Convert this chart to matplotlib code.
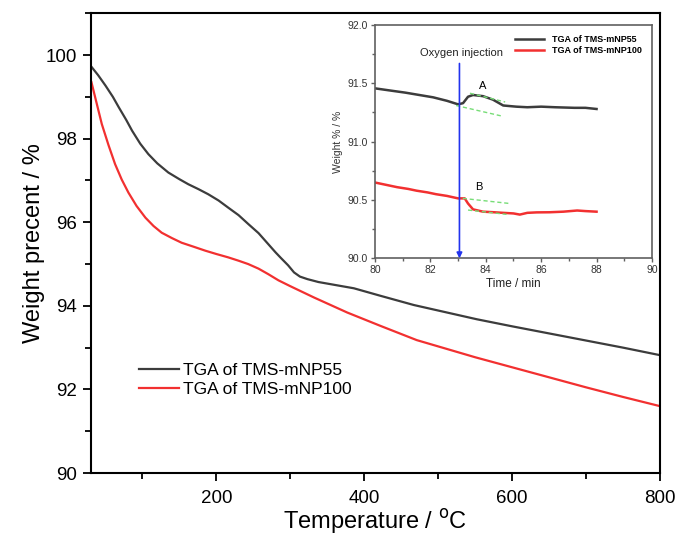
import numpy as np
import matplotlib.pyplot as plt
from matplotlib.ticker import MultipleLocator, FormatStrFormatter

plt.rcParams['font.family'] = ['Liberation Sans', 'DejaVu Sans']

# ---- main TGA curves (temperature in degC, weight in %) ----
temp_55 = [31, 40, 50, 60, 68, 78, 86, 97, 108, 120, 135, 150, 162, 176, 189,
           203, 216, 230, 243, 257, 270, 280, 287, 297, 305, 313, 323, 338,
           354, 370, 386, 422, 467, 512, 552, 600, 650, 700, 750, 800]
weight_55 = [99.72, 99.52, 99.27, 99.00, 98.75, 98.45, 98.19, 97.88, 97.63,
             97.41, 97.19, 97.03, 96.91, 96.79, 96.67, 96.52, 96.35, 96.17,
             95.96, 95.74, 95.48, 95.28, 95.15, 94.97, 94.80, 94.70, 94.64,
             94.57, 94.52, 94.47, 94.42, 94.24, 94.02, 93.84, 93.68, 93.51,
             93.34, 93.17, 93.00, 92.82]

temp_100 = [31, 38, 45, 54, 63, 72, 81, 92, 104, 115, 126, 140, 153, 170, 185,
            200, 216, 230, 243, 257, 270, 284, 300, 332, 377, 422, 471, 550,
            600, 650, 700, 750, 800]
weight_100 = [99.35, 98.85, 98.35, 97.85, 97.39, 97.02, 96.71, 96.39, 96.11,
              95.91, 95.75, 95.62, 95.51, 95.41, 95.32, 95.24, 95.16, 95.08,
              95.00, 94.89, 94.76, 94.61, 94.47, 94.20, 93.84, 93.52, 93.18,
              92.77, 92.53, 92.29, 92.05, 91.82, 91.60]

# ---- inset: isothermal run with oxygen injection (time in min) ----
time_55 = [80.0, 80.5, 81.1, 81.6, 82.1, 82.6, 83.0, 83.18, 83.36, 83.54, 83.9,
           84.26, 84.63, 85.1, 85.5, 86.0, 86.5, 87.2, 87.6, 88.0]
iso_55 = [91.457, 91.44, 91.42, 91.40, 91.38, 91.35, 91.32, 91.33, 91.385,
          91.40, 91.39, 91.36, 91.31, 91.30, 91.295, 91.30, 91.295, 91.29,
          91.29, 91.28]

time_100 = [80.0, 80.4, 80.8, 81.2, 81.5, 81.9, 82.2, 82.6, 83.0, 83.24, 83.36,
            83.54, 83.9, 84.3, 84.63, 85.0, 85.23, 85.5, 85.84, 86.3, 86.8,
            87.3, 87.6, 88.0]
iso_100 = [90.65, 90.63, 90.61, 90.595, 90.58, 90.565, 90.55, 90.535, 90.514,
           90.514, 90.47, 90.42, 90.40, 90.395, 90.39, 90.385, 90.375, 90.39,
           90.394, 90.395, 90.40, 90.41, 90.405, 90.40]

# green dashed tangent guides
tangents = [
    ([83.43, 84.70], [91.415, 91.34]),
    ([82.93, 84.57], [91.31, 91.22]),
    ([83.17, 84.87], [90.514, 90.47]),
    ([83.36, 84.75], [90.414, 90.377]),
]
injection_time = 83.05

black = '#3c3c3c'
red = '#f23030'

fig = plt.figure(figsize=(6.94, 5.36), dpi=100)
ax = fig.add_axes([0.1307, 0.1175, 0.8203, 0.8577])

ax.plot(temp_55, weight_55, color=black, lw=1.6, label='TGA of TMS-mNP55')
ax.plot(temp_100, weight_100, color=red, lw=1.6, label='TGA of TMS-mNP100')

ax.set_xlim(30, 800)
ax.set_ylim(90, 101)
ax.xaxis.set_major_locator(MultipleLocator(200))
ax.xaxis.set_minor_locator(MultipleLocator(100))
ax.yaxis.set_major_locator(MultipleLocator(2))
ax.yaxis.set_minor_locator(MultipleLocator(1))
for s in ax.spines.values():
    s.set_linewidth(1.5)
ax.tick_params(which='major', direction='out', length=6, width=1.3,
               labelsize=13.5, pad=4)
ax.tick_params(axis='x', which='major', pad=6)
ax.tick_params(which='minor', direction='out', length=4, width=1.3)
ax.set_xlabel('Temperature / $^{\\mathrm{o}}$C', fontsize=17, labelpad=0)
ax.set_ylabel('Weight precent / %', fontsize=17, labelpad=0)

ax.legend(loc='upper left', bbox_to_anchor=(0.085, 0.24), frameon=False,
          fontsize=12.5, handlelength=2.3, handletextpad=0.25,
          labelspacing=0.25, borderpad=0, borderaxespad=0)

# ---- inset ----
gray = '#606060'
ins = fig.add_axes([0.5403, 0.518, 0.3991, 0.4354])
ins.plot(time_55, iso_55, color=black, lw=1.8, label='TGA of TMS-mNP55')
ins.plot(time_100, iso_100, color=red, lw=1.8, label='TGA of TMS-mNP100')
for tx, ty in tangents:
    ins.plot(tx, ty, color='#77dd77', lw=1.0, ls=(0, (3, 2)))

ins.annotate('', xy=(injection_time, 90.0), xytext=(injection_time, 91.67),
             arrowprops=dict(arrowstyle='-|>', color='#2233ee', lw=1.2,
                             mutation_scale=8, shrinkA=0, shrinkB=0))
ins.text(83.13, 91.76, 'Oxygen injection', fontsize=8, ha='center',
         va='center', color='#222222')
ins.text(83.9, 91.48, 'A', fontsize=8, ha='center', va='center')
ins.text(83.76, 90.61, 'B', fontsize=8, ha='center', va='center')

ins.set_xlim(80, 90)
ins.set_ylim(90.0, 92.0)
ins.xaxis.set_major_locator(MultipleLocator(2))
ins.xaxis.set_minor_locator(MultipleLocator(1))
ins.yaxis.set_major_locator(MultipleLocator(0.5))
ins.yaxis.set_minor_locator(MultipleLocator(0.25))
ins.yaxis.set_major_formatter(FormatStrFormatter('%.1f'))
for s in ins.spines.values():
    s.set_color(gray)
    s.set_linewidth(1.2)
ins.tick_params(which='major', direction='out', length=3, width=1,
                color=gray, labelsize=7.5, labelcolor='#333333', pad=2)
ins.tick_params(which='minor', direction='out', length=2, width=1, color=gray)
ins.set_xlabel('Time / min', fontsize=8.5, color='#222222', labelpad=2)
ins.set_ylabel('Weight % / %', fontsize=7.5, color='#333333', labelpad=3)
ins.legend(loc='upper right', bbox_to_anchor=(0.985, 0.985), frameon=False,
           prop={'size': 6.5, 'weight': 'bold'}, handlelength=3.2,
           handletextpad=0.8, labelspacing=0.25, borderpad=0.2)

fig.savefig('out.png', dpi=100)
